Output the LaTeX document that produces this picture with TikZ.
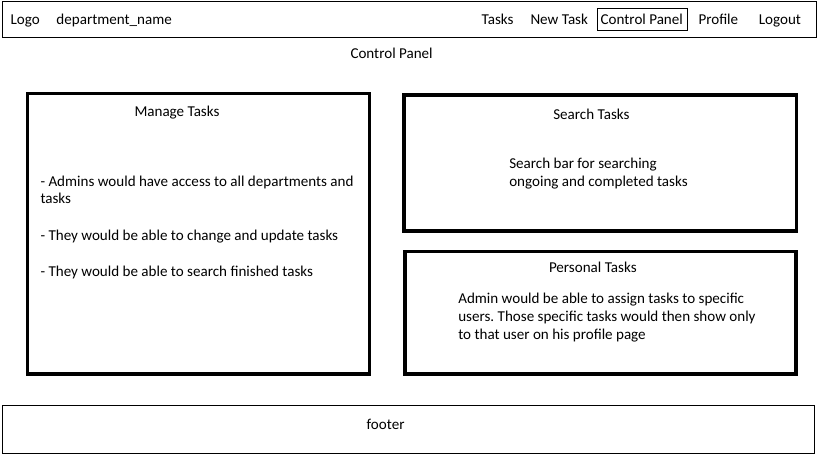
\documentclass[tikz,border=0pt]{standalone}
\usepackage{fontspec}
\setmainfont{Carlito}
\frenchspacing
\begin{document}
\begin{tikzpicture}[x=0.75pt,y=-0.75pt,
  thinbox/.style={draw=black,line width=0.75pt},
  thickbox/.style={draw=black,line width=2.4pt},
  txt/.style={anchor=base west,inner sep=0pt,outer sep=0pt,font=\fontsize{11.3pt}{13.5pt}\selectfont,text=black}]
\useasboundingbox (0,0) rectangle (819,460);
% header
\draw[thinbox] (2,2) rectangle (816.5,38) ;
\node[txt] (logo) at (10.5,24.5) {Logo};
\node[txt] (dept) at (56.5,24.5) {department\_name};
\node[txt] (navtasks) at (481.7,24.5) {Tasks};
\node[txt] (navnew) at (530.5,24.5) {New Task};
\draw[thinbox] (597.8,8.8) rectangle (687.7,30.7);
\node[txt] (navcp) at (600.7,24.5) {Control Panel};
\node[txt] (navprof) at (698.5,24.5) {Profile};
\node[txt] (navout) at (758.8,24.5) {Logout};
% page title
\node[txt] (title) at (350.5,58.5) {Control Panel};
% manage tasks
\draw[thickbox] (27.5,93.5) rectangle (369.5,374);
\node[txt] (mt) at (134.5,116.4) {Manage Tasks};
\node[txt] (mt1) at (40.5,186.4) {- Admins would have access to all departments and};
\node[txt] (mt1b) at (40.5,203.8) {tasks};
\node[txt] (mt2) at (40.5,240.4) {- They would be able to change and update tasks};
\node[txt] (mt3) at (40.5,276.4) {- They would be able to search finished tasks};
% search tasks
\draw[thickbox] (404,95) rectangle (796.5,231);
\node[txt] (st) at (553.3,119.7) {Search Tasks};
\node[txt] (st1) at (509.3,168.5) {Search bar for searching};
\node[txt] (st2) at (509.3,186.4) {ongoing and completed tasks};
% personal tasks
\draw[thickbox] (405,251.5) rectangle (796,374);
\node[txt] (pt) at (549,272.9) {Personal Tasks};
\node[txt] (pt1) at (458.3,303.7) {Admin would be able to assign tasks to specific};
\node[txt] (pt2) at (458.3,321.7) {users. Those specific tasks would then show only};
\node[txt] (pt3) at (458.3,339.7) {to that user on his profile page};
% footer
\draw[thinbox] (2.5,405.5) rectangle (814.5,453.5);
\node[txt] (foot) at (366.7,429.7) {footer};
\end{tikzpicture}
\end{document}
